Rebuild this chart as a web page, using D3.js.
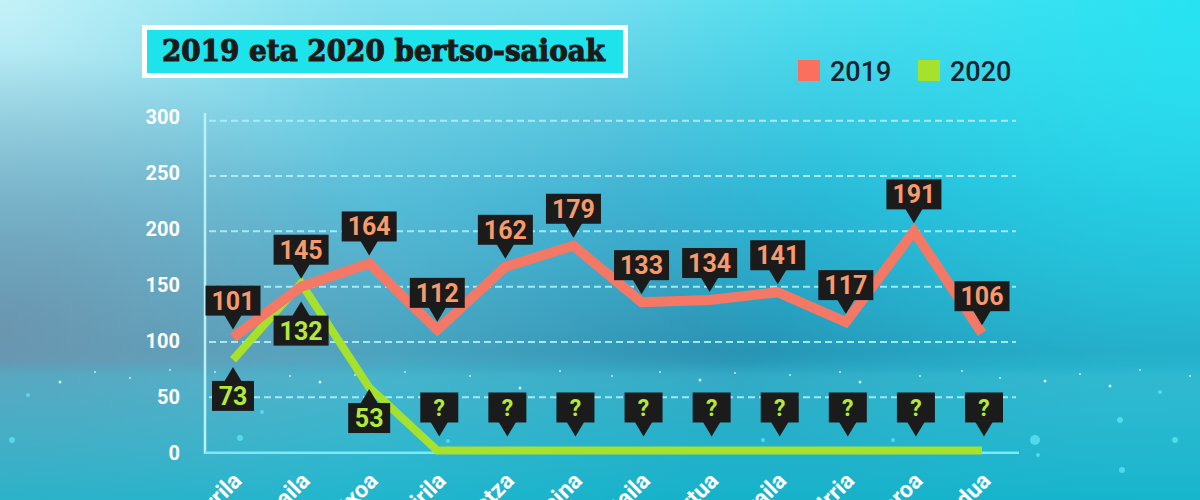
<!DOCTYPE html>
<html><head><meta charset="utf-8">
<script src="https://cdn.jsdelivr.net/npm/d3@7"></script>
<style>html,body{margin:0;padding:0;overflow:hidden;background:#2aa6c6}</style>
</head><body>
<script>
const months = ["Urtarrila","Otsaila","Martxoa","Apirila","Maiatza","Ekaina","Uztaila","Abuztua","Iraila","Urria","Azaroa","Abendua"];
// plotted positions
const values2019 = [104, 150, 171, 111, 168, 187, 136, 138, 145, 118, 200, 108];
const values2020 = [84, 153, 59, 2, 2, 2, 2, 2, 2, 2, 2, 2];
// printed callout labels
const labels2019 = ["101","145","164","112","162","179","133","134","141","117","191","106"];
const labels2020 = ["73","132","53","?","?","?","?","?","?","?","?","?"];
const labelValues2020 = [73, 132, 53, null, null, null, null, null, null, null, null, null];
const yTicks = [0, 50, 100, 150, 200, 250, 300];
const seriesNames = ["2019", "2020"];
const title = "2019 eta 2020 bertso-saioak";
// decorative sparkle dots of the background photo [x, y, r]
const sparkles = [[12,440,3],[28,395,2],[60,382,1.5],[95,372,1],[130,378,1],[170,370,1],[215,372,1],[240,438,3],[262,412,2],[290,376,1],[320,382,1.5],[355,375,1],[372,430,3.5],[405,372,1],[448,441,2],[470,376,1],[520,388,1.5],[560,371,1],[612,376,1],[660,372,1],[700,380,1.5],[735,373,1],[763,440,2],[790,375,1],[840,372,1],[860,382,1.5],[893,440,2],[920,376,1],[962,371,1],[1000,378,1],[1035,440,5],[1045,381,1.5],[1080,374,1],[1110,386,1.5],[1120,420,3],[1140,370,1],[1160,392,2],[1175,440,3],[1190,376,1],[1122,470,3],[1038,455,2]];

const W = 1200, H = 500;
const red = "#f47866", green = "#a6e22c";
const redText = "#f79a6c", greenText = "#b4e83a";

const svg = d3.select("body").append("svg").attr("width", W).attr("height", H);
const defs = svg.append("defs");

// background
const lg = defs.append("linearGradient").attr("id","bg").attr("x1",0).attr("y1",0).attr("x2",0).attr("y2",1);
[[0,"#66dcee"],[0.4,"#2caacd"],[0.7,"#2790b2"],[0.76,"#2e9ebc"],[1,"#18b0c8"]].forEach(([o,c])=>lg.append("stop").attr("offset",o).attr("stop-color",c));
svg.append("rect").attr("width",W).attr("height",H).attr("fill","url(#bg)");
const rg1 = defs.append("radialGradient").attr("id","tl").attr("cx",0).attr("cy",0).attr("r",0.7).attr("gradientUnits","objectBoundingBox")
  .attr("gradientTransform","scale(1,2.4)");
rg1.append("stop").attr("offset",0).attr("stop-color","#eefbfd").attr("stop-opacity",0.7);
rg1.append("stop").attr("offset",0.45).attr("stop-color","#c8eef4").attr("stop-opacity",0.3);
rg1.append("stop").attr("offset",1).attr("stop-color","#c8eef4").attr("stop-opacity",0);
svg.append("rect").attr("width",W).attr("height",H).attr("fill","url(#tl)");
const rg2 = defs.append("radialGradient").attr("id","tr").attr("cx",1).attr("cy",0).attr("r",0.5).attr("gradientUnits","objectBoundingBox")
  .attr("gradientTransform","translate(1,0) scale(1,2.4) translate(-1,0)");
rg2.append("stop").attr("offset",0).attr("stop-color","#1fe4f2").attr("stop-opacity",0.9);
rg2.append("stop").attr("offset",1).attr("stop-color","#1fe4f2").attr("stop-opacity",0);
svg.append("rect").attr("width",W).attr("height",H).attr("fill","url(#tr)");
const rg3 = defs.append("radialGradient").attr("id","lm").attr("cx",0).attr("cy",0.66).attr("r",0.35).attr("gradientUnits","objectBoundingBox")
  .attr("gradientTransform","translate(0,0.66) scale(1,1.6) translate(0,-0.66)");
rg3.append("stop").attr("offset",0).attr("stop-color","#6c8ea8").attr("stop-opacity",0.8);
rg3.append("stop").attr("offset",1).attr("stop-color","#6c8ea8").attr("stop-opacity",0);
svg.append("rect").attr("width",W).attr("height",H).attr("fill","url(#lm)");
const bl = defs.append("linearGradient").attr("id","bot").attr("x1",0).attr("y1",0).attr("x2",0).attr("y2",1);
[[0,"#1ab8d0",0],[0.72,"#1ab8d0",0],[0.75,"#3cc0d6",0.35],[1,"#14b4cc",0.6]].forEach(([o,c,a])=>bl.append("stop").attr("offset",o).attr("stop-color",c).attr("stop-opacity",a));
svg.append("rect").attr("width",W).attr("height",H).attr("fill","url(#bot)");
svg.append("g").selectAll("circle").data(sparkles).join("circle")
  .attr("cx",d=>d[0]).attr("cy",d=>d[1]).attr("r",d=>d[2])
  .attr("fill",d=>d[2]>1.6?"#5fe6f6":"#e8fbff").attr("opacity",d=>d[2]>1.6?0.75:0.8);

// scales
const x = d3.scalePoint().domain(months).range([233, 982]);
const y = d3.scaleLinear().domain([0, 300]).range([452.7, 120.7]);
const x0 = 205, x1 = 1016;

// grid
const g = svg.append("g");
g.selectAll("line.grid").data(yTicks.filter(d=>d>0)).join("line").attr("class","grid")
  .attr("x1",x0+4).attr("x2",x1).attr("y1",d=>y(d)).attr("y2",d=>y(d))
  .attr("stroke","#aeefff").attr("stroke-width",2).attr("stroke-dasharray","7,4").attr("opacity",0.9);
// axes
g.append("line").attr("x1",x0).attr("x2",x0).attr("y1",113).attr("y2",y(0)+1).attr("stroke","#b8f2ff").attr("stroke-width",2.5);
g.append("line").attr("x1",x0).attr("x2",x1+3).attr("y1",y(0)).attr("y2",y(0)).attr("stroke","#7ee8f8").attr("stroke-width",2.5);

// y tick labels
const yAxis = d3.axisLeft(y).tickValues(yTicks).tickSize(0).tickPadding(0);
const ya = svg.append("g").attr("transform","translate(180,0)").call(yAxis);
ya.select(".domain").remove();
ya.selectAll("text").attr("fill","#ffffff").attr("font-family","Roboto, sans-serif").attr("font-weight","bold")
  .attr("font-size",20).attr("dy","0.34em").attr("transform",d=>`translate(0,${-(d/300)*4})`);

// x labels (cut off by the bottom edge, as in the reference)
svg.append("g").selectAll("text").data(months).join("text")
  .attr("transform",d=>`translate(${x(d)+10},${482}) rotate(-45)`)
  .attr("text-anchor","end").attr("fill","#ffffff").attr("font-family","Roboto, sans-serif")
  .attr("font-weight","bold").attr("font-size",23).text(d=>d);

// lines
const line = d3.line().x((d,i)=>x(months[i])).y(d=>y(d)).curve(d3.curveLinear);
svg.append("path").attr("d",line(values2020)).attr("fill","none").attr("stroke",green).attr("stroke-width",8).attr("stroke-linejoin","miter");
svg.append("path").attr("d",line(values2019)).attr("fill","none").attr("stroke",red).attr("stroke-width",10).attr("stroke-linejoin","miter");

// callouts
function callout(parent, cx, tipY, text, color, dir, boxW){
  const bh = 30, th = 14, tw = 9;
  const gg = parent.append("g");
  let boxTop, path;
  if (dir === "down") {
    const bb = tipY - th;
    boxTop = bb - bh;
    path = `M${cx-tw},${bb-1} L${cx},${tipY} L${cx+tw},${bb-1} Z`;
  } else {
    const bt = tipY + th;
    boxTop = bt;
    path = `M${cx-tw},${bt+1} L${cx},${tipY} L${cx+tw},${bt+1} Z`;
  }
  gg.append("path").attr("d",path).attr("fill","#1b1b1b");
  gg.append("rect").attr("x",cx-boxW/2).attr("y",boxTop).attr("width",boxW).attr("height",bh).attr("fill","#1b1b1b");
  gg.append("text").attr("x",cx).attr("y",boxTop+bh/2).attr("dy","0.36em").attr("text-anchor","middle")
    .attr("fill",color).attr("font-family","Roboto, sans-serif").attr("font-weight","bold")
    .attr("font-size",text==="?"?23:25).text(text);
}
const cg = svg.append("g");
labels2020.forEach((t,i)=>{
  if (labelValues2020[i] != null) {
    callout(cg, x(months[i]), y(labelValues2020[i]) - 5, t, greenText, "up", t.length===3?55:42);
  } else {
    callout(cg, x(months[i]) + 2, y(values2020[i]) - 14, t, greenText, "down", 38);
  }
});
labels2019.forEach((t,i)=>{
  callout(cg, x(months[i]), y(values2019[i]) - 8, t, redText, "down", 55);
});

// title box
svg.append("rect").attr("x",144.5).attr("y",27.5).attr("width",481).attr("height",48).attr("fill","#1fe3eb").attr("stroke","#ffffff").attr("stroke-width",5);
svg.append("text").attr("x",162).attr("y",61).attr("fill","#1a1a1a").attr("stroke","#1a1a1a").attr("stroke-width",1.1)
  .attr("font-family","'DejaVu Serif', serif")
  .attr("font-weight","bold").attr("font-size",30).attr("textLength",443).attr("lengthAdjust","spacingAndGlyphs").text(title);

// legend
const legend = svg.append("g");
const lx = [798, 918];
seriesNames.forEach((s,i)=>{
  legend.append("rect").attr("x",lx[i]).attr("y",60).attr("width",22).attr("height",21).attr("fill",i===0?"#fb6f5e":"#a6e22c");
  legend.append("text").attr("x",lx[i]+32).attr("y",81).attr("fill","#18232b").attr("font-family","Roboto, sans-serif")
    .attr("font-weight",500).attr("font-size",27).text(s);
});
</script>
</body></html>
